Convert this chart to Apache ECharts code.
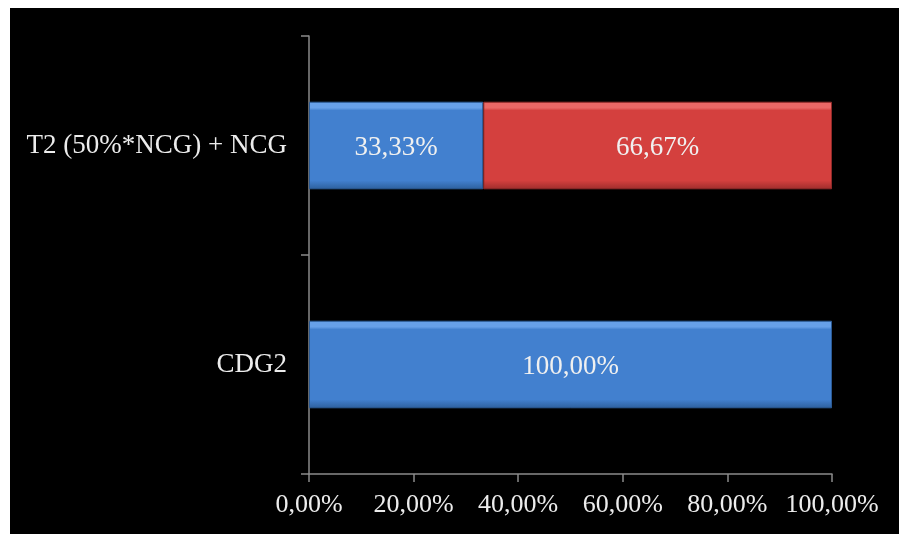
<!DOCTYPE html>
<html>
<head>
<meta charset="utf-8">
<script src="https://cdn.jsdelivr.net/npm/echarts@6/dist/echarts.min.js"></script>
<style>
  html, body { margin: 0; padding: 0; background: #fff; }
  #chart { position: absolute; left: 10px; top: 8px; width: 889px; height: 526px; background: #000; }
</style>
</head>
<body>
<div id="chart"></div>
<script>
// categories listed bottom-up (category axis on y)
var categories = ['CDG2', 'T2 (50%*NCG) + NCG'];
var blueValues = [100, 33.33];
var redValues = [null, 66.67];
var xTicks = [0, 20, 40, 60, 80, 100];

var fontFam = '"Liberation Serif", "Times New Roman", serif';

function bevel(light, main, dark) {
    return new echarts.graphic.LinearGradient(0, 0, 0, 1, [
        { offset: 0, color: light },
        { offset: 0.07, color: light },
        { offset: 0.1, color: main },
        { offset: 0.9, color: main },
        { offset: 1, color: dark }
    ]);
}

function pct(v) {
    return v.toFixed(2).replace('.', ',') + '%';
}

var chart = echarts.init(document.getElementById('chart'));

chart.setOption({
    backgroundColor: '#000',
    animation: false,
    grid: { left: 299, right: 67, top: 28, bottom: 60 },
    xAxis: {
        type: 'value',
        min: xTicks[0],
        max: xTicks[xTicks.length - 1],
        interval: 20,
        splitLine: { show: false },
        axisLine: { show: true, lineStyle: { color: '#8a8a8a', width: 1.5 } },
        axisTick: { show: true, length: 8, lineStyle: { color: '#8a8a8a', width: 1.5 } },
        axisLabel: {
            color: '#ececec', fontFamily: fontFam, fontSize: 26, margin: 18,
            formatter: function (v) { return pct(v); }
        }
    },
    yAxis: {
        type: 'category',
        data: categories,
        axisLine: { show: true, lineStyle: { color: '#8a8a8a', width: 1.5 } },
        axisTick: { show: true, length: 8, lineStyle: { color: '#8a8a8a', width: 1.5 } },
        axisLabel: { color: '#ececec', fontFamily: fontFam, fontSize: 27, margin: 22 }
    },
    series: [
        {
            type: 'bar',
            stack: 'total',
            data: blueValues,
            barWidth: '40%',
            itemStyle: {
                color: bevel('#67a0e8', '#4280cf', '#2d5f9c'),
                borderColor: '#2b5a94',
                borderWidth: 1
            },
            label: {
                show: true, position: 'inside', color: '#f0f0f0',
                fontFamily: fontFam, fontSize: 27, offset: [0, 2],
                formatter: function (p) { return pct(p.value); }
            }
        },
        {
            type: 'bar',
            stack: 'total',
            data: redValues,
            barWidth: '40%',
            itemStyle: {
                color: bevel('#ea6866', '#d4403e', '#9e2d2c'),
                borderColor: '#8f2a29',
                borderWidth: 1
            },
            label: {
                show: true, position: 'inside', color: '#f0f0f0',
                fontFamily: fontFam, fontSize: 27, offset: [0, 2],
                formatter: function (p) { return pct(p.value); }
            }
        }
    ]
});
</script>
</body>
</html>
